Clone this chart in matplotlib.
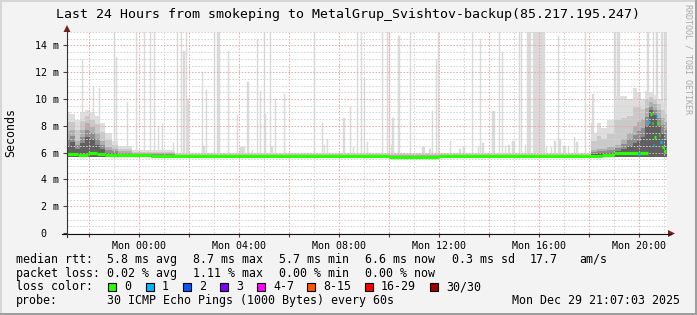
import numpy as np
import matplotlib
matplotlib.use("Agg")
import matplotlib.pyplot as plt
from matplotlib.lines import Line2D
from matplotlib.patches import Rectangle, Polygon

# ---------------------------------------------------------------- data
# time axis: hours relative to Mon 00:00 (graph covers Sun 21:07 .. Mon 21:07)
t_start, t_end = -2.883, 21.117
xtick_hours = [0, 4, 8, 12, 16, 20]
xtick_labels = ["Mon 00:00", "Mon 04:00", "Mon 08:00", "Mon 12:00", "Mon 16:00", "Mon 20:00"]
ytick_ms = [0, 2, 4, 6, 8, 10, 12, 14]
ytick_labels = ["0  ", "2 m", "4 m", "6 m", "8 m", "10 m", "12 m", "14 m"]

# smoke envelope (ms), bins given by edges (hours)
smoke_edges = [-2.883, -2.76, -2.56, -2.36, -2.16, -1.96, -1.76, -1.56, -1.36, -1.08, -0.84, -0.28,
               1.44,
               18.08, 18.32, 18.48, 18.72, 19.0, 19.28, 19.52, 19.76, 19.92, 20.08, 20.24, 20.40,
               20.56, 20.72, 20.88, 21.04, 21.117]
smoke_light = [9.0, 8.9, 8.4, 9.0, 9.2, 9.0, 8.7, 8.2, 7.5, 6.9, 6.5, 6.2,
               5.95,
               7.5, 8.2, 7.8, 8.4, 10.2, 10.2, 10.0, 10.8, 10.5, 10.0, 10.6, 10.5, 10.3, 10.0, 9.8, 9.5]
smoke_mid = [7.6, 7.7, 6.9, 7.7, 8.2, 7.9, 7.5, 6.9, 6.4, 6.3, 6.1, 5.95,
             5.85,
             6.2, 6.3, 6.3, 6.4, 6.6, 7.0, 7.5, 8.0, 8.3, 8.5, 9.3, 9.8, 9.6, 9.2, 8.6, 8.3]
smoke_dark = [6.5, 6.8, 6.3, 6.7, 7.2, 7.0, 6.6, 6.3, 6.0, 5.95, 5.9, 5.85,
              5.7,
              5.9, 5.95, 5.95, 6.0, 6.1, 6.3, 6.5, 6.7, 6.9, 7.2, 8.0, 9.2, 8.8, 8.0, 7.5, 7.0]
smoke_floor = 5.65

# median rtt (ms) per interval, with number of lost pings
med_edges = [-2.883, -2.45, -2.05, -1.7, -1.35, -0.88, 0.48, 10.0, 12.0, 18.5, 19.0, 19.96, 20.04,
             20.36, 20.42, 20.5, 20.56, 20.6, 20.66, 20.72, 20.78, 20.84, 20.9, 20.98, 21.06, 21.117]
med_val = [5.9, 5.85, 6.0, 5.9, 5.85, 5.8, 5.75, 5.7, 5.75, 5.85, 6.0, 5.9, 6.0,
           8.3, 8.9, 8.2, 6.6, 7.2, 8.7, 8.2, 7.3, 6.8, 6.4, 6.1, 6.3]
med_loss = [0, 0, 0, 0, 0, 0, 0, 0, 0, 0, 0, 1, 0, 1, 0, 0, 1, 0, 1, 0, 0, 1, 0, 0, 0]

# outlier spikes: time (h), top (ms), duration (min)
spike_t = [-2.28, -1.84, -1.6, -1.0, -0.92, -0.48, -0.12, 0.2, 0.44, 0.6, 0.76, 0.92,
           1.36, 1.52, 1.68, 1.8, 1.88, 1.96, 2.52, 2.56, 2.68, 3.0, 3.16, 3.56, 3.92, 4.12,
           4.36, 4.52, 4.72, 4.84, 5.0, 5.04, 5.24, 5.3, 5.44, 5.8, 7.0, 7.32, 7.4, 7.52,
           8.2, 8.44, 8.56, 8.72, 8.88, 9.0, 9.12, 9.72, 9.92, 10.0, 10.08, 10.16, 10.4, 10.84,
           11.36, 11.64, 11.72, 11.88, 11.96, 12.44, 12.84, 13.0, 13.32, 13.56, 13.64, 13.76,
           14.16, 14.4, 14.52, 14.64, 14.8, 14.96, 15.2, 15.28, 15.44, 15.6, 15.8, 16.06,
           16.28, 16.48, 16.64, 16.76, 16.84, 17.0, 17.16, 17.4, 17.52, 17.84, 18.08, 18.16,
           18.36, 18.52, 19.04, 19.16, 19.4, 20.36, 20.56, 20.72, 20.92, 21.04]
spike_top = [12.9, 10.9, 10.8, 15, 13.1, 9.8, 15, 15, 15, 15, 8.0, 8.1,
             6.7, 15, 15, 13.6, 15, 10.0, 12.0, 6.5, 10.7, 15, 15, 13.6, 8.8, 6.4,
             11.3, 6.2, 14.5, 10.6, 15, 8.9, 15, 6.5, 10.0, 10.4, 15, 8.2, 6.6, 7.0,
             8.6, 9.4, 6.4, 15, 15, 11.6, 6.8, 15, 15, 15, 6.6, 8.6, 14.7, 15,
             6.4, 6.3, 9.1, 13.0, 15, 6.9, 6.3, 6.4, 15, 6.4, 14.5, 6.7,
             9.1, 15, 13.5, 6.5, 6.6, 6.9, 15, 15, 6.6, 15, 15, 15,
             6.4, 6.4, 6.9, 14.7, 7.0, 6.5, 6.5, 7.2, 6.8, 15, 8.2, 10.4,
             7.5, 7.5, 15, 15, 10.1, 15, 15, 15, 15, 15]
spike_w = [2.4, 2.4, 2.4, 2.4, 2.4, 2.4, 2.4, 2.4, 2.4, 2.4, 2.4, 2.4,
           2.4, 2.4, 2.4, 4.8, 2.4, 4.8, 2.4, 7.2, 2.4, 2.4, 7.2, 2.4, 2.4, 12.0,
           4.8, 2.4, 2.4, 2.4, 2.4, 2.4, 2.4, 4.8, 2.4, 2.4, 2.4, 2.4, 2.4, 2.4,
           4.8, 2.4, 2.4, 2.4, 2.4, 2.4, 2.4, 2.4, 2.4, 2.4, 2.4, 4.8, 4.8, 2.4,
           7.2, 4.8, 2.4, 2.4, 2.4, 2.4, 4.8, 4.8, 2.4, 2.4, 2.4, 4.8,
           7.2, 2.4, 2.4, 2.4, 4.8, 7.2, 2.4, 2.4, 2.4, 9.6, 7.2, 21.6,
           2.4, 2.4, 4.8, 2.4, 4.8, 7.2, 2.4, 2.4, 4.8, 2.4, 2.4, 4.8,
           4.8, 7.2, 4.8, 7.2, 4.8, 4.8, 2.4, 4.8, 4.8, 7.2]

loss_labels = ["0", "1", "2", "3", "4-7", "8-15", "16-29", "30/30"]
loss_colors = ["#26ff00", "#00b8ff", "#0059ff", "#7e00ff", "#ff00ff", "#ff5500", "#ff0000", "#a10000"]

title = "Last 24 Hours from smokeping to MetalGrup_Svishtov-backup(85.217.195.247)"
row_rtt = ["median rtt:", "5.8 ms avg", "8.7 ms max", "5.7 ms min", "6.6 ms now", "0.3 ms sd", "17.7", "am/s"]
row_loss = ["packet loss:", "0.02 % avg", "1.11 % max", "0.00 % min", "0.00 % now"]
row_probe = ["probe:", "30 ICMP Echo Pings (1000 Bytes) every 60s", "Mon Dec 29 21:07:03 2025"]

# ---------------------------------------------------------------- layout
W, H = 697, 315
MONO = "DejaVu Sans Mono"
fig = plt.figure(figsize=(W / 100, H / 100), dpi=100, facecolor="#f3f3f3")

AX_L, AX_R, AX_T, AX_B = 67, 667, 32, 233
ax = fig.add_axes([AX_L / W, 1 - AX_B / H, (AX_R - AX_L) / W, (AX_B - AX_T) / H])
ax.set_facecolor("white")
ax.set_xlim(t_start, t_end)
ax.set_ylim(0, 15)
for s in ax.spines.values():
    s.set_visible(False)


def fx(x):
    return x / W


def fy(y):
    return 1 - y / H


# spikes (light outliers)
st = np.array(spike_t)
ax.bar(st, np.array(spike_top) - smoke_floor, bottom=smoke_floor, width=np.array(spike_w) / 60.0,
       color="#dadada", edgecolor="#dadada", linewidth=0.35, zorder=0.9)

# smoke: graded layers between the read envelopes
edges = np.array(smoke_edges)
L = np.array(smoke_light)
M = np.array(smoke_mid)
D = np.array(smoke_dark)
layers = [(L, "#dedede"), ((L + M) / 2, "#c9c9c9"), (M, "#afafaf"),
          ((M + D) / 2, "#8c8c8c"), (D, "#606060")]
for k, (vals, col) in enumerate(layers):
    v = np.append(vals, vals[-1])
    ax.fill_between(edges, smoke_floor, v, step="post", color=col, lw=0, zorder=1 + 0.1 * k)

# grid
ax.set_xticks(np.arange(-2, 22, 2))
ax.set_xticks(np.arange(-2, 22, 1), minor=True)
ax.set_xticklabels([xtick_labels[xtick_hours.index(h)] if h in xtick_hours else "" for h in range(-2, 22, 2)])
ax.set_yticks(ytick_ms)
ax.set_yticks(np.arange(0, 15.01, 0.5), minor=True)
ax.set_yticklabels(ytick_labels)
ax.grid(which="minor", color="#d2d2d2", lw=0.7, linestyle=(0, (1.6, 1.6)))
ax.grid(which="major", color="#eaa6a6", lw=0.7, linestyle=(0, (1.6, 1.6)))
ax.set_axisbelow(False)
ax.tick_params(axis="both", which="minor", length=0)
ax.tick_params(axis="x", which="major", length=3, width=0.8, color="#444444", pad=2.5,
               labelsize=7.2, labelfontfamily=MONO)
ax.tick_params(axis="y", which="major", length=3, width=0.8, color="#444444", pad=3,
               labelsize=7.2, labelfontfamily=MONO)

# median line coloured by loss
me = np.array(med_edges)
ax.hlines(med_val, me[:-1], me[1:], colors=[loss_colors[l] for l in med_loss], lw=2.3,
          zorder=4)

# axis lines and arrows
fig.add_artist(Line2D([fx(62), fx(671)], [fy(AX_B + 0.5)] * 2, color="#111111", lw=0.8))
fig.add_artist(Line2D([fx(AX_L)] * 2, [fy(AX_B + 4), fy(29)], color="#333333", lw=0.8))
fig.add_artist(Polygon([[fx(AX_L - 3.5), fy(32)], [fx(AX_L + 3.5), fy(32)], [fx(AX_L), fy(25)]],
                       closed=True, color="#7f1f1f", lw=0))
fig.add_artist(Polygon([[fx(668), fy(AX_B - 3)], [fx(668), fy(AX_B + 4)], [fx(675), fy(AX_B + 0.5)]],
                       closed=True, color="#7f1f1f", lw=0))

# frame shading
fig.add_artist(Rectangle((0, fy(2)), 1, 2 / H, color="#d6d6d6", lw=0))
fig.add_artist(Rectangle((0, 0), 2 / W, 1, color="#d6d6d6", lw=0))
fig.add_artist(Rectangle((0, 0), 1, 2 / H, color="#9e9e9e", lw=0))
fig.add_artist(Rectangle((1 - 2 / W, 0), 2 / W, 1, color="#9e9e9e", lw=0))

# texts
fig.text(fx(348.5), fy(18.3), title, fontsize=9.5, family=MONO, ha="center", va="baseline")
fig.text(fx(11), fy(132), "Seconds", fontsize=8.4, family=MONO, rotation=90, ha="center", va="center")
fig.text(fx(688), fy(4), "RRDTOOL / TOBI OETIKER", fontsize=6, family=MONO, rotation=270,
         ha="center", va="top", color="#a8a8a8")

LFS = 8.4
rows_y = [262.7, 276.7, 290.2, 304.3]
x_rtt = [16, 107, 193, 279, 365, 452, 530, 579]
for s, x in zip(row_rtt, x_rtt):
    fig.text(fx(x), fy(rows_y[0]), s, fontsize=LFS, family=MONO, ha="left", va="baseline")
x_loss = [16, 107, 193, 279, 365]
for s, x in zip(row_loss, x_loss):
    fig.text(fx(x), fy(rows_y[1]), s, fontsize=LFS, family=MONO, ha="left", va="baseline")
fig.text(fx(16), fy(rows_y[2]), "loss color:", fontsize=LFS, family=MONO, ha="left", va="baseline")
box_x = [108, 146, 183, 220, 257, 307, 365, 430]
for lab, col, bx in zip(loss_labels, loss_colors, box_x):
    fig.add_artist(Rectangle((fx(bx), fy(290.7)), 8 / W, 8 / H, facecolor=col, edgecolor="black", lw=0.8))
    fig.text(fx(bx + 16), fy(rows_y[2]), lab, fontsize=LFS, family=MONO, ha="left", va="baseline")
fig.text(fx(16), fy(rows_y[3]), row_probe[0], fontsize=LFS, family=MONO, ha="left", va="baseline")
fig.text(fx(107), fy(rows_y[3]), row_probe[1], fontsize=LFS, family=MONO, ha="left", va="baseline")
fig.text(fx(680), fy(rows_y[3]), row_probe[2], fontsize=LFS, family=MONO, ha="right", va="baseline")

fig.savefig("out.png", dpi=100, facecolor=fig.get_facecolor())
